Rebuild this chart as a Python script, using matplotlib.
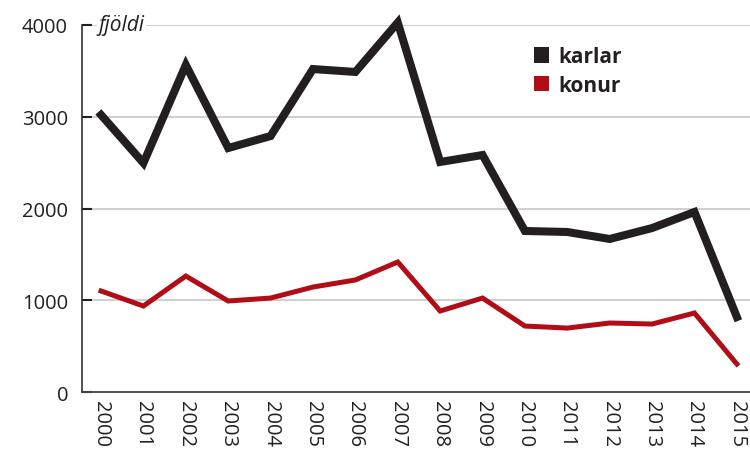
import matplotlib.pyplot as plt
from matplotlib.patches import Patch

plt.rcParams['font.family'] = ['Open Sans', 'DejaVu Sans']

ar = list(range(2000, 2016))
karlar = [3020, 2496, 3564, 2659, 2790, 3520, 3488, 4027,
          2507, 2583, 1755, 1744, 1668, 1787, 1962, 817]
konur = [1101, 937, 1264, 992, 1024, 1144, 1221, 1417,
         883, 1024, 719, 697, 752, 741, 861, 305]

svart = '#231f20'
rautt = '#b20d16'

fig = plt.figure(figsize=(7.5, 4.52), dpi=100)
ax = fig.add_axes([0.1093, 0.1305, 0.8907, 0.812])

ax.plot(ar, karlar, color=svart, lw=5.8, solid_joinstyle='miter', clip_on=False, zorder=3)
ax.plot(ar, konur, color=rautt, lw=3.6, solid_joinstyle='miter', clip_on=False, zorder=3)

ax.set_xlim(1999.55, 2015.31)
ax.set_ylim(0, 4000)
ax.set_yticks([0, 1000, 2000, 3000, 4000])
ax.set_xticks(ar)
ax.set_xticklabels([str(a) for a in ar], rotation=-90, fontsize=14.5, color=svart)
ax.tick_params(axis='x', length=0, pad=6)
ax.tick_params(axis='y', direction='in', length=7.5, width=1.5, color=svart,
               pad=10, labelsize=14.5, labelcolor=svart)

# gridlines start after the tick
for v in [1000, 2000, 3000, 4000]:
    ax.axhline(v, xmin=0.016, xmax=1, color='#cccccc', lw=1.3, zorder=1)

for s in ['top', 'right']:
    ax.spines[s].set_visible(False)
ax.spines['left'].set_color(svart)
ax.spines['bottom'].set_color('#444444')
ax.spines['left'].set_linewidth(1.1)
ax.spines['bottom'].set_linewidth(1.3)

ax.text(0.025, 1.0, 'fjöldi', transform=ax.transAxes, fontsize=15, style='italic',
        color=svart, va='center', ha='left', zorder=2,
        bbox=dict(facecolor='white', edgecolor='none', pad=1))

handles = [Patch(facecolor=svart, label='karlar'), Patch(facecolor=rautt, label='konur')]
leg = ax.legend(handles=handles, loc='upper left', bbox_to_anchor=(0.648, 0.993),
                frameon=False, handlelength=0.75, handleheight=0.75, handletextpad=0.45,
                labelspacing=0.35, prop={'weight': 'bold', 'size': 15})
for t in leg.get_texts():
    t.set_color(svart)

fig.savefig('out.png', dpi=100)
